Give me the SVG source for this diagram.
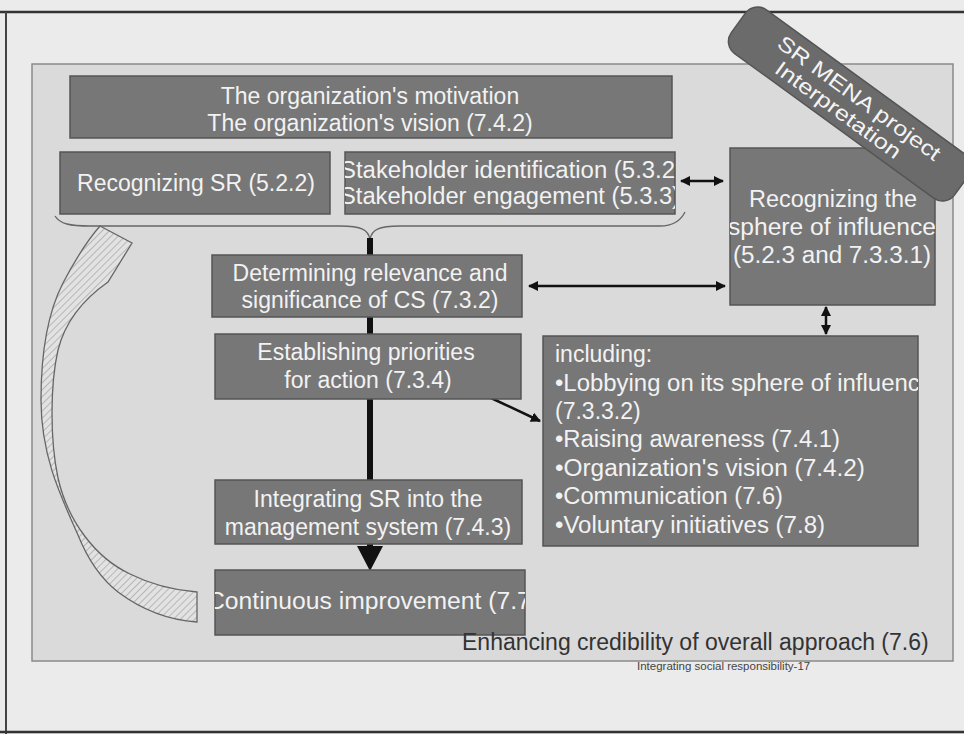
<svg xmlns="http://www.w3.org/2000/svg" width="964" height="734" viewBox="0 0 964 734">
<style>
.box{fill:#777;stroke:#555;stroke-width:1.5}
.bt{font-family:"Liberation Sans",Arial,sans-serif;font-size:23px;fill:#f2f2f2}
.c{text-anchor:middle}
.conn{stroke:#111;stroke-width:2.5;fill:none}
</style>
<defs>
<marker id="ah" viewBox="0 0 10 10" refX="9" refY="5" markerWidth="4" markerHeight="4" orient="auto-start-reverse" markerUnits="strokeWidth">
<path d="M0,0 L10,5 L0,10 z" fill="#111"/>
</marker>
<pattern id="hatch" patternUnits="userSpaceOnUse" width="5" height="5" patternTransform="rotate(45)">
<rect width="5" height="5" fill="#e2e2e2"/>
<line x1="0" y1="0" x2="0" y2="5" stroke="#a8a8a8" stroke-width="1.5"/>
</pattern>
<clipPath id="cpStake"><rect x="345" y="152" width="330" height="62"/></clipPath>
<clipPath id="cpCont"><rect x="215" y="570" width="310" height="65"/></clipPath>
<clipPath id="cpSphere"><rect x="730" y="148" width="205" height="157"/></clipPath>
<clipPath id="cpInc"><rect x="543" y="336" width="375" height="210"/></clipPath>
</defs>

<!-- background -->
<rect x="0" y="0" width="964" height="734" fill="#ebebeb"/>
<line x1="0" y1="12" x2="964" y2="12" stroke="#333" stroke-width="2.5"/>
<line x1="6" y1="12" x2="6" y2="734" stroke="#444" stroke-width="2"/>
<line x1="0" y1="732" x2="964" y2="732" stroke="#333" stroke-width="2.5"/>
<rect x="32" y="64" width="921" height="597" fill="#dadada" stroke="#8a8a8a" stroke-width="1.5"/>

<!-- connectors -->
<g id="connectors">
<path d="M55,216 C60,224 70,226 90,226 L340,226 C362,226 368,230 370,239 C372,230 378,226 400,226 L660,226 C672,226 680,222 685,212" fill="none" stroke="#666" stroke-width="1.3"/>
<line x1="370" y1="238" x2="370" y2="548" stroke="#111" stroke-width="6"/>
<polygon points="357,546 383,546 370,571" fill="#111"/>
<line class="conn" x1="681" y1="181" x2="723" y2="181" marker-start="url(#ah)" marker-end="url(#ah)"/>
<line class="conn" x1="529" y1="286" x2="725" y2="286" marker-start="url(#ah)" marker-end="url(#ah)"/>
<line class="conn" x1="826" y1="307" x2="826" y2="334" marker-start="url(#ah)" marker-end="url(#ah)"/>
<line class="conn" x1="491" y1="398" x2="540" y2="421" marker-end="url(#ah)"/>
<path id="loop-arrow" d="M100,226 L132,243 L108,282 C88,296 66,318 58,350 C50,385 50,440 58,478 C68,522 96,558 130,574 C150,584 172,590 197,592 L197,622 C168,620 142,610 118,592 C100,578 88,560 78,535 C60,495 41,455 41,400 C41,352 48,312 63,283 C74,262 86,242 100,226 Z" fill="url(#hatch)" stroke="#666" stroke-width="1.3"/>
</g>

<g id="motivation">
<rect class="box" x="70" y="76" width="602" height="62"/>
<text class="bt c" x="370" y="104">The organization's motivation</text>
<text class="bt c" x="370" y="131">The organization's vision (7.4.2)</text>
</g>

<g id="recognizing-sr">
<rect class="box" x="60" y="152" width="270" height="62"/>
<text class="bt c" x="196" y="191">Recognizing SR (5.2.2)</text>
</g>

<g id="stakeholder">
<rect class="box" x="345" y="152" width="330" height="62"/>
<g clip-path="url(#cpStake)">
<text class="bt" x="340" y="178" textLength="343" lengthAdjust="spacingAndGlyphs">Stakeholder identification (5.3.2)</text>
<text class="bt" x="340" y="204" textLength="340" lengthAdjust="spacingAndGlyphs">Stakeholder engagement (5.3.3)</text>
</g>
</g>

<g id="sphere">
<rect class="box" x="730" y="148" width="205" height="157"/>
<g clip-path="url(#cpSphere)">
<text class="bt c" x="833" y="207" textLength="168" lengthAdjust="spacingAndGlyphs">Recognizing the</text>
<text class="bt c" x="832" y="235" textLength="208" lengthAdjust="spacingAndGlyphs">sphere of influence</text>
<text class="bt c" x="832" y="263" textLength="198" lengthAdjust="spacingAndGlyphs">(5.2.3 and 7.3.3.1)</text>
</g>
</g>

<g id="determining">
<rect class="box" x="212" y="255" width="310" height="62"/>
<text class="bt c" x="370" y="281">Determining relevance and</text>
<text class="bt c" x="370" y="308">significance of CS (7.3.2)</text>
</g>

<g id="establishing">
<rect class="box" x="215" y="334" width="306" height="65"/>
<text class="bt c" x="366" y="360">Establishing priorities</text>
<text class="bt c" x="368" y="388">for action (7.3.4)</text>
</g>

<g id="including">
<rect class="box" x="543" y="336" width="375" height="210"/>
<g clip-path="url(#cpInc)">
<text class="bt" x="555" y="362">including:</text>
<text class="bt" x="555" y="391" textLength="378" lengthAdjust="spacingAndGlyphs">•Lobbying on its sphere of influence</text>
<text class="bt" x="555" y="419">(7.3.3.2)</text>
<text class="bt" x="555" y="447" textLength="285" lengthAdjust="spacingAndGlyphs">•Raising awareness (7.4.1)</text>
<text class="bt" x="555" y="476" textLength="310" lengthAdjust="spacingAndGlyphs">•Organization's vision  (7.4.2)</text>
<text class="bt" x="555" y="504" textLength="228" lengthAdjust="spacingAndGlyphs">•Communication (7.6)</text>
<text class="bt" x="555" y="533" textLength="270" lengthAdjust="spacingAndGlyphs">•Voluntary initiatives (7.8)</text>
</g>
</g>

<g id="integrating">
<rect class="box" x="215" y="480" width="307" height="64"/>
<text class="bt c" x="368" y="507">Integrating SR into the</text>
<text class="bt c" x="368" y="535">management system (7.4.3)</text>
</g>

<g id="continuous">
<rect class="box" x="215" y="570" width="310" height="65"/>
<g clip-path="url(#cpCont)">
<text class="bt c" x="373" y="609" textLength="332" lengthAdjust="spacingAndGlyphs">Continuous improvement (7.7)</text>
</g>
</g>

<g id="banner" transform="translate(850,104) rotate(36)">
<rect x="-138" y="-27" width="276" height="54" rx="15" fill="#6b6b6b" stroke="#555" stroke-width="1.5"/>
<text x="4" y="-3" text-anchor="middle" font-family="'Liberation Sans',Arial,sans-serif" font-size="21" fill="#f4f4f4" textLength="196" lengthAdjust="spacingAndGlyphs">SR MENA project</text>
<text x="-6" y="19" text-anchor="middle" font-family="'Liberation Sans',Arial,sans-serif" font-size="21" fill="#f4f4f4" textLength="150" lengthAdjust="spacingAndGlyphs">Interpretation</text>
</g>

<text x="462" y="650" font-family="'Liberation Sans',Arial,sans-serif" font-size="23" fill="#333">Enhancing credibility of overall approach (7.6)</text>
<text x="637" y="670" font-family="'Liberation Sans',Arial,sans-serif" font-size="11.5" fill="#444">Integrating social responsibility-17</text>
</svg>
